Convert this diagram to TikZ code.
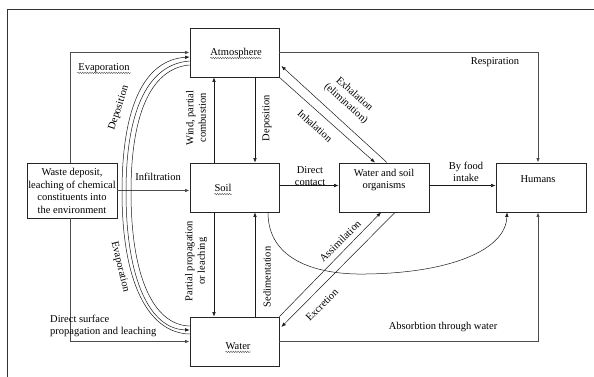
\documentclass[tikz,border=0pt]{standalone}
\usepackage{fontspec}
\setmainfont{Liberation Serif}
\usetikzlibrary{arrows.meta,decorations.pathmorphing}

\begin{document}
\begin{tikzpicture}[x=1pt,y=-1pt,
	box/.style={draw=black!85, line width=0.8pt, minimum width=89pt, minimum height=49pt, inner sep=0pt},
	txt/.style={inner sep=0pt, font=\fontsize{10.5}{12.5}\selectfont, align=center},
	lbl/.style={inner sep=1pt, font=\fontsize{10.5}{12.5}\selectfont, align=center},
	flow/.style={draw=black!70, line width=1pt, -{Latex[length=4.5pt,width=3.5pt]}},
	thin/.style={draw=black!90, line width=0.5pt, -{Latex[length=4.5pt,width=3.5pt]}},
	wavy/.style={draw=black!70, line width=0.35pt, decorate, decoration={snake, amplitude=0.8pt, segment length=2.4pt}}]
	\useasboundingbox (0,0) rectangle (594,377);

	% page frame
	\draw[black!80, line width=0.8pt] (7,377) -- (7,9) -- (594,9);

	% boxes
	\node[box] (atm) at (234.5,52.5) {};
	\node[box] (soil) at (234.5,187.5) {};
	\node[box] (water) at (234.5,341.5) {};
	\node[box, minimum width=90pt, minimum height=55pt] (waste) at (72,190.5) {};
	\node[box, minimum width=90pt] (org) at (384,187.5) {};
	\node[box, minimum width=90pt] (hum) at (541,187.5) {};

	% box texts
	\node[txt] (atmT) at (236,53) {Atmosphere};
	\node[txt] (soilT) at (223,188) {Soil};
	\node[txt] (waterT) at (238,346) {Water};
	\node[txt] (wasteT) at (72,191) {Waste deposit,\\leaching of chemical\\constituents into\\the environment};
	\node[txt] (orgT) at (384,180) {Water and soil\\organisms};
	\node[txt] (humT) at (538,179) {Humans};
	\draw[wavy] ([yshift=-2.5pt]atmT.base west) -- ([yshift=-2.5pt]atmT.base east);
	\draw[wavy] ([yshift=-2.5pt]soilT.base west) -- ([yshift=-2.5pt]soilT.base east);
	\draw[wavy] ([yshift=-2.5pt]waterT.base west) -- ([yshift=-2.5pt]waterT.base east);

	% straight connectors
	\draw[flow] ([xshift=-2pt]waste.north) |- (atm.west);
	\draw[flow] ([xshift=-2pt]waste.south) |- (water.west);
	\draw[flow] (waste.east) -- (waste.east -| soil.west);
	\draw[flow] (atm.east) -| ([xshift=-3pt]hum.north);
	\draw[flow] (water.east) -| ([xshift=-3pt]hum.south);
	\draw[thin] ([xshift=20.5pt]atm.south) -- ([xshift=20.5pt]soil.north);
	\draw[thin] ([xshift=-20.5pt]soil.north) -- ([xshift=-20.5pt]atm.south);
	\draw[thin] ([xshift=-20.5pt]soil.south) -- ([xshift=-20.5pt]water.north);
	\draw[thin] ([xshift=20.5pt]water.north) -- ([xshift=20.5pt]soil.south);
	\draw[thin] ([yshift=2pt]soil.east) -- ([yshift=2pt]org.west);
	\draw[thin] ([yshift=2pt]org.east) -- ([yshift=2pt]hum.west);

	% diagonals
	\draw[thin] (atm.south east) -- ([xshift=-9pt]org.north);
	\draw[thin] ([xshift=3pt]org.north) -- ([xshift=2pt,yshift=-13.5pt]atm.east);
	\draw[thin] (water.north east) -- ([xshift=-3pt]org.south);
	\draw[thin] ([xshift=11pt]org.south) -- ([xshift=2pt,yshift=14.5pt]water.east);

	% curves
	\draw[thin] ([xshift=33.5pt]soil.south) .. controls (268,262) and (320,275) .. (366,274)
		.. controls (450,273) and (506,250) .. ([xshift=-34pt]hum.south);
	\draw[thin] ([yshift=7.5pt]water.west) .. controls (148,333) and (122,282) .. (122,192)
		.. controls (122,105) and (145,60) .. ([yshift=-4.5pt]atm.west);
	\draw[thin] ([yshift=-8.5pt]atm.west) .. controls (150,64) and (126,106) .. (126,192)
		.. controls (126,280) and (150,329) .. ([yshift=11.5pt]water.west);
	\draw[thin, -] ([yshift=-12.5pt]atm.west) .. controls (154,68) and (131,108) .. (131,192)
		.. controls (131,278) and (154,325) .. ([yshift=15.5pt]water.west);

	% labels
	\node[lbl] (lEvap) at (104,68) {Evaporation};
	\draw[wavy] ([yshift=-2.5pt]lEvap.base west) -- ([yshift=-2.5pt]lEvap.base east);
	\node[lbl, align=left, anchor=west] (lDirect) at (49,326) {Direct surface\\propagation and leaching};
	\node[lbl] (lInf) at (158,177) {Infiltration};
	\node[lbl, rotate=72] (lDepA) at (119,108) {Deposition};
	\node[lbl, rotate=-76] (lEvapB) at (120,267) {Evaporation};
	\node[lbl, rotate=90] (lWind) at (196,118) {Wind, partial\\combustion};
	\node[lbl, rotate=90] (lDepB) at (267,118) {Deposition};
	\node[lbl, rotate=90] (lPart) at (196,261) {Partial propagation\\or leaching};
	\node[lbl, rotate=90] (lSed) at (267,277) {Sedimentation};
	\node[lbl] (lDc) at (310,176) {Direct\\contact};
	\node[lbl] (lFood) at (466,172) {By food\\intake};
	\node[lbl] (lResp) at (495,62) {Respiration};
	\node[lbl, rotate=-42] (lExh) at (350,99) {Exhalation\\(elimination)};
	\node[lbl, rotate=-42] (lInh) at (315,126) {Inhalation};
	\node[lbl, rotate=45] (lAss) at (340,241) {Assimilation};
	\node[lbl, rotate=45] (lExc) at (322,305) {Excretion};
	\node[lbl] (lAbs) at (443,327) {Absorbtion through water};
\end{tikzpicture}
\end{document}
